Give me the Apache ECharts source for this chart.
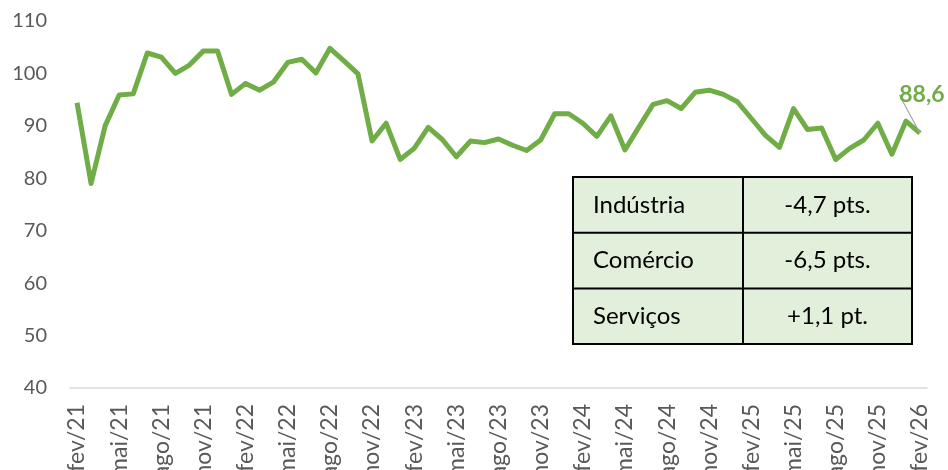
<!DOCTYPE html>
<html>
<head>
<meta charset="utf-8">
<script src="https://cdn.jsdelivr.net/npm/echarts@6/dist/echarts.min.js"></script>
<style>
html,body{margin:0;padding:0;background:#fff;}
#c{width:948px;height:470px;}
</style>
</head>
<body>
<div id="c"></div>
<script>
const monthNames = ['jan','fev','mar','abr','mai','jun','jul','ago','set','out','nov','dez'];
const startYear = 21, startMonth = 1; // fev/21
const values = [
  94.4, 79.0, 90.0, 95.9, 96.1, 103.9, 103.1, 100.0, 101.6, 104.3, 104.3,
  96.0, 98.1, 96.8, 98.4, 102.1, 102.7, 100.1, 104.8, 102.4, 99.9,
  87.1, 90.5, 83.6, 85.7, 89.7, 87.4, 84.1, 87.1, 86.8, 87.5, 86.3,
  85.3, 87.3, 92.3, 92.3, 90.5, 88.0, 91.9, 85.4, 89.8, 94.1, 94.8,
  93.3, 96.4, 96.8, 96.0, 94.6, 91.4, 88.2, 85.9, 93.3, 89.3, 89.6,
  83.6, 85.7, 87.3, 90.5, 84.6, 90.9, 88.6
];
const categories = values.map((v, i) => {
  const m = startMonth + i;
  return monthNames[m % 12] + '/' + (startYear + Math.floor(m / 12));
});
const tableSectors = ['Indústria', 'Comércio', 'Serviços'];
const tableChanges = ['-4,7 pts.', '-6,5 pts.', '+1,1 pt.'];

const FONT = 'Lato, "Open Sans", sans-serif';
const chart = echarts.init(document.getElementById('c'), null, {renderer: 'canvas'});
const lastIdx = values.length - 1;

// table graphic
const tx = 573, ty = 177, tw = 339, rowH = 55.7, colX = 743;
const tableEls = [];
tableEls.push({type: 'rect', shape: {x: tx, y: ty, width: tw, height: rowH * 3},
  style: {fill: '#E2EFDA', stroke: '#000', lineWidth: 2}, z: 10});
for (let r = 1; r < 3; r++) {
  tableEls.push({type: 'line', shape: {x1: tx, y1: ty + rowH * r, x2: tx + tw, y2: ty + rowH * r},
    style: {stroke: '#000', lineWidth: 2}, z: 11});
}
tableEls.push({type: 'line', shape: {x1: colX, y1: ty, x2: colX, y2: ty + rowH * 3},
  style: {stroke: '#000', lineWidth: 2}, z: 11});
tableSectors.forEach((s, r) => {
  tableEls.push({type: 'text', x: 593, y: ty + rowH * r + rowH / 2, z: 12,
    style: {text: s, font: '24px ' + FONT, fill: '#000', textVerticalAlign: 'middle', textAlign: 'left'}});
  tableEls.push({type: 'text', x: (colX + tx + tw) / 2, y: ty + rowH * r + rowH / 2, z: 12,
    style: {text: tableChanges[r], font: '24px ' + FONT, fill: '#000', textVerticalAlign: 'middle', textAlign: 'center'}});
});

chart.setOption({
  animation: false,
  grid: {left: 70, right: 21, top: 21, bottom: 82, containLabel: false, outerBoundsMode: 'none'},
  xAxis: {
    type: 'category',
    data: categories,
    boundaryGap: true,
    axisLine: {show: true, lineStyle: {color: '#D9D9D9', width: 1.5}},
    axisTick: {show: false},
    axisLabel: {interval: 2, rotate: 90, color: '#595959', fontSize: 23, fontFamily: FONT, margin: 16}
  },
  yAxis: {
    type: 'value',
    min: 40, max: 110, interval: 10,
    axisLine: {show: false},
    axisTick: {show: false},
    splitLine: {show: false},
    axisLabel: {color: '#595959', fontSize: 20, fontFamily: FONT, margin: 23}
  },
  series: [{
    type: 'line',
    data: values.map((v, i) => i === lastIdx ? {value: v, label: {show: true}} : v),
    showSymbol: true,
    symbol: 'circle',
    symbolSize: 0,
    label: {show: false, position: 'top', distance: 5,
      formatter: p => String(p.value).replace('.', ','),
      color: '#70AD47', fontWeight: 'bold', fontSize: 23, fontFamily: FONT},
    labelLine: {show: true, lineStyle: {color: '#A6A6A6', width: 1.2}},
    labelLayout: p => p.dataIndex === lastIdx ? {dx: 2, dy: -22} : {},
    lineStyle: {color: '#70AD47', width: 5, join: 'round'},
    itemStyle: {color: '#70AD47'},
    z: 5
  }],
  graphic: tableEls
});
</script>
</body>
</html>
